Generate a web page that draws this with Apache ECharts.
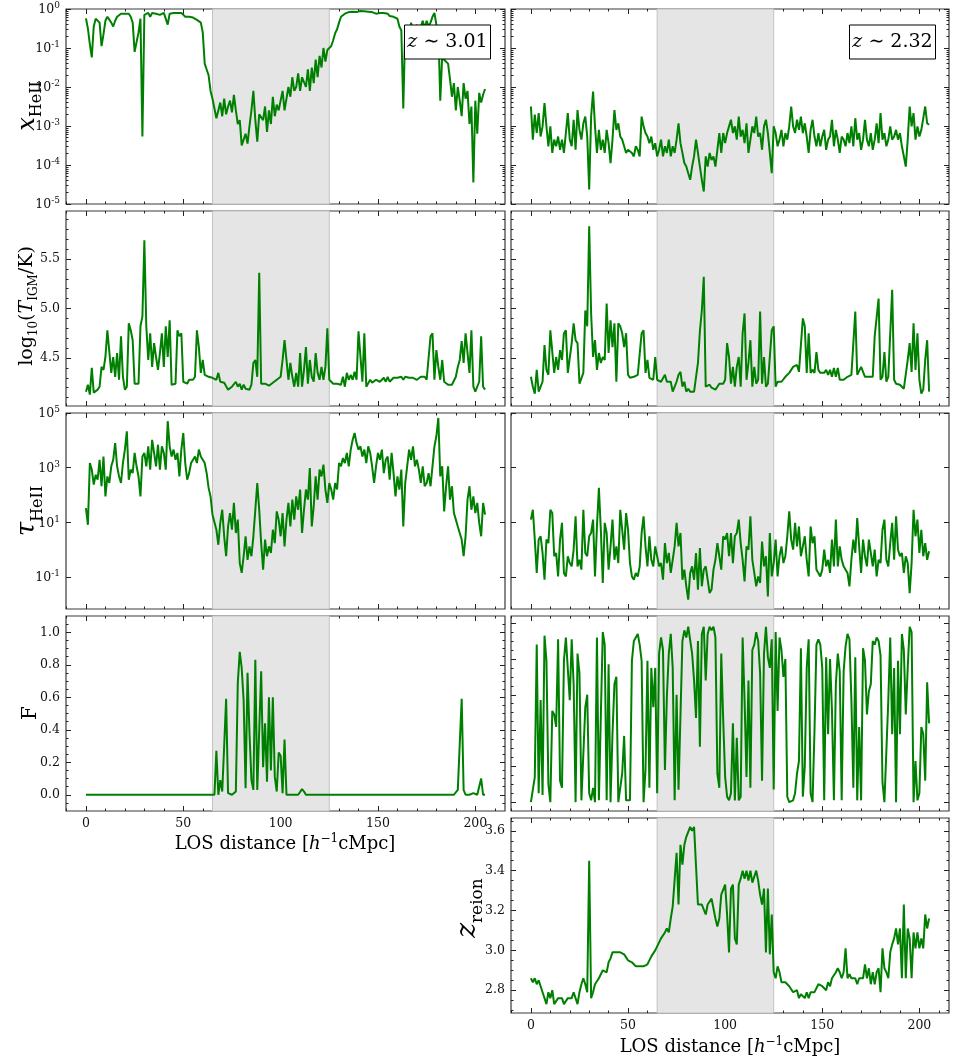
<!DOCTYPE html>
<html><head><meta charset="utf-8">
<script src="https://cdn.jsdelivr.net/npm/echarts@6/dist/echarts.min.js"></script>
<style>html,body{margin:0;padding:0;background:#fff}#chart{width:954px;height:1064px}</style>
</head><body><div id="chart"></div>
<script>
// ---------------- DATA ----------------
// sampling grid along the line of sight [h^-1 cMpc]
const losDistance = Array.from({length: 206}, (_, i) => i);
const shadedRegion = [65, 125];

// log10 x_HeII, z~3.01
const logXHeII_z301 = [
-0.24,-0.5,-0.9,-1.24,-0.45,-0.25,-0.2,-0.35,-0.95,-0.65,
-0.3,-0.2,-0.15,-0.35,-0.45,-0.3,-0.2,-0.15,-0.12,-0.1,
-0.12,-0.15,-0.12,-0.2,-0.35,-1.1,-1.15,-0.6,-0.25,-3.27,
-0.15,-0.12,-0.1,-0.2,-0.1,-0.08,-0.12,-0.1,-0.15,-0.12,
-0.1,-0.15,-0.4,-0.12,-0.1,-0.1,-0.08,-0.1,-0.12,-0.1,
-0.15,-0.2,-0.25,-0.2,-0.25,-0.22,-0.2,-0.28,-0.25,-0.35,
-0.6,-1.4,-1.55,-1.7,-2.1,-2.3,-2.25,-2.8,-2.6,-2.4,
-2.75,-2.3,-2.7,-2.5,-2.35,-2.65,-2.2,-2.6,-2.95,-2.85,
-3.5,-3.35,-3.2,-3.45,-3.0,-2.6,-2.1,-2.85,-3.4,-2.7,
-2.65,-2.85,-2.5,-3.15,-2.6,-2.95,-2.25,-2.75,-2.45,-2.6,
-2.35,-2.1,-2.6,-2.3,-2.0,-2.25,-1.75,-2.1,-2.0,-1.65,
-2.1,-1.75,-1.8,-2.0,-1.55,-2.1,-1.5,-1.9,-1.3,-1.75,
-1.2,-1.5,-1.0,-1.35,-1.05,-1.0,-0.95,-0.8,-0.62,-0.52,
-0.35,-0.2,-0.15,-0.12,-0.1,-0.08,-0.1,-0.07,-0.05,-0.08,
-0.06,-0.05,-0.08,-0.06,-0.1,-0.07,-0.05,-0.08,-0.1,-0.12,
-0.08,-0.1,-0.12,-0.1,-0.15,-0.12,-0.18,-0.15,-0.2,-0.18,
-0.25,-0.45,-0.55,-2.55,-0.5,-0.7,-0.9,-0.35,-0.55,-0.8,
-0.4,-1.0,-0.45,-0.3,-0.5,-0.3,-0.45,-0.35,-0.2,-0.1,
-0.4,-0.5,-2.35,-1.2,-1.3,-1.25,-1.4,-1.8,-2.25,-1.9,
-2.6,-2.0,-2.35,-2.75,-1.9,-2.3,-2.1,-2.95,-2.5,-4.45,
-2.35,-3.2,-2.15,-2.4,-2.2,-2.05];

// log10 x_HeII, z~2.32
const logXHeII_z232 = [
-2.5,-3.35,-2.71,-3.18,-2.67,-3.27,-3.01,-2.41,-3.01,-3.52,
-3.01,-3.69,-3.35,-3.52,-3.27,-3.61,-3.35,-3.69,-3.18,-2.67,
-3.35,-3.52,-2.84,-3.61,-2.59,-3.1,-3.35,-2.93,-2.76,-3.27,
-4.63,-2.76,-2.12,-3.01,-3.69,-3.1,-3.61,-3.35,-3.69,-3.1,
-3.44,-3.95,-3.35,-2.59,-3.1,-2.93,-3.27,-3.35,-3.52,-3.69,
-3.61,-3.65,-3.69,-3.78,-3.52,-3.61,-3.78,-2.76,-3.01,-3.18,
-3.27,-3.44,-3.27,-3.61,-3.44,-3.78,-3.61,-3.35,-3.78,-3.52,
-3.69,-3.35,-3.78,-3.52,-3.69,-3.35,-2.93,-3.44,-3.69,-3.95,
-4.04,-4.21,-4.38,-4.04,-3.78,-3.35,-3.69,-4.04,-4.38,-4.68,
-3.78,-4.04,-3.69,-3.87,-3.78,-4.04,-3.61,-3.18,-3.69,-3.18,
-3.44,-3.18,-3.01,-2.84,-3.18,-3.01,-3.35,-2.76,-3.27,-3.1,
-3.44,-2.93,-3.69,-3.35,-3.01,-3.18,-2.76,-3.27,-3.18,-3.61,
-3.01,-2.84,-3.18,-3.69,-4.21,-3.01,-3.18,-3.52,-3.35,-3.1,
-3.52,-3.18,-3.35,-3.01,-2.5,-3.01,-3.18,-2.84,-3.1,-2.76,
-3.18,-2.93,-3.27,-3.69,-3.1,-2.84,-3.27,-3.52,-3.18,-3.52,
-3.27,-3.1,-3.61,-3.35,-3.27,-2.84,-3.52,-3.1,-3.35,-3.69,
-3.27,-3.35,-3.52,-3.18,-3.44,-3.01,-3.52,-2.8,-3.35,-3.18,
-3.61,-3.35,-2.84,-3.35,-3.52,-3.18,-3.61,-3.35,-2.93,-3.44,
-2.67,-3.35,-3.18,-3.52,-3.35,-3.01,-3.35,-3.27,-3.1,-3.35,
-3.18,-3.52,-3.52,-4.04,-3.35,-2.5,-3.01,-2.67,-3.35,-3.01,
-3.27,-3.1,-3.1,-2.5,-2.93,-2.97];

// log10(T_IGM/K), z~3.01
const logT_z301 = [
4.16,4.23,4.13,4.40,4.15,4.16,4.18,4.21,4.41,4.38,
4.51,4.78,4.80,4.35,4.51,4.31,4.55,4.28,4.72,4.31,
4.18,4.21,4.85,4.78,4.68,4.24,4.23,4.24,4.82,4.92,
5.69,4.82,4.48,4.75,4.41,4.65,4.51,4.38,4.55,4.75,
4.41,4.82,4.51,4.88,4.23,4.23,4.24,4.78,4.72,4.75,
4.26,4.26,4.24,4.28,4.26,4.28,4.31,4.78,4.61,4.35,
4.48,4.33,4.32,4.31,4.31,4.30,4.29,4.28,4.35,4.26,
4.28,4.25,4.24,4.18,4.18,4.21,4.19,4.26,4.21,4.24,
4.18,4.23,4.19,4.18,4.18,4.23,4.45,4.48,4.31,5.36,
4.24,4.25,4.24,4.23,4.22,4.24,4.25,4.26,4.28,4.28,
4.31,4.48,4.68,4.48,4.28,4.45,4.31,4.21,4.35,4.21,
4.55,4.21,4.38,4.61,4.24,4.48,4.31,4.26,4.55,4.35,
4.28,4.41,4.28,4.41,4.80,4.28,4.26,4.24,4.25,4.24,
4.26,4.23,4.31,4.21,4.35,4.28,4.33,4.28,4.36,4.28,
4.77,4.77,4.26,4.75,4.21,4.23,4.28,4.25,4.26,4.28,
4.28,4.26,4.28,4.30,4.26,4.31,4.26,4.28,4.30,4.28,
4.30,4.28,4.31,4.28,4.31,4.31,4.30,4.31,4.30,4.31,
4.28,4.30,4.31,4.30,4.31,4.28,4.28,4.72,4.75,4.28,
4.58,4.41,4.28,4.48,4.26,4.24,4.23,4.21,4.23,4.24,
4.31,4.41,4.48,4.67,4.45,4.75,4.75,4.35,4.78,4.21,
4.16,4.16,4.26,4.72,4.21,4.18];

// log10(T_IGM/K), z~2.32
const logT_z232 = [
4.31,4.21,4.14,4.38,4.16,4.21,4.26,4.63,4.38,4.33,
4.78,4.80,4.35,4.51,4.38,4.58,4.48,4.75,4.78,4.35,
4.35,4.65,4.85,4.68,4.65,4.24,4.23,4.35,4.98,4.82,
5.83,4.95,4.51,4.68,4.38,4.55,4.45,4.51,4.48,5.05,
4.55,4.88,4.61,4.85,4.26,4.85,4.82,4.75,4.61,4.75,
4.33,4.30,4.31,4.31,4.33,4.33,4.35,4.75,4.78,4.35,
4.48,4.30,4.30,4.28,4.51,4.28,4.28,4.26,4.28,4.33,
4.26,4.24,4.26,4.16,4.18,4.26,4.33,4.36,4.21,4.26,
4.16,4.19,4.16,4.16,4.16,4.18,4.45,4.77,4.98,5.32,
4.21,4.21,4.23,4.20,4.19,4.18,4.21,4.24,4.23,4.24,
4.28,4.65,4.51,4.24,4.41,4.21,4.41,4.51,4.21,4.75,
4.95,4.28,4.45,4.68,4.21,4.41,4.24,4.28,4.97,4.24,
4.51,4.21,4.24,4.26,4.78,4.82,4.21,4.26,4.24,4.26,
4.28,4.31,4.30,4.35,4.38,4.41,4.40,4.43,4.36,4.38,
4.90,4.82,4.35,4.75,4.35,4.38,4.35,4.56,4.38,4.35,
4.33,4.35,4.38,4.33,4.38,4.31,4.40,4.31,4.40,4.28,
4.30,4.28,4.30,4.31,4.31,4.33,4.35,4.97,4.33,4.35,
4.41,4.43,4.31,4.31,4.31,4.30,4.31,4.72,4.72,5.10,
4.28,4.31,4.56,4.26,4.31,4.75,5.19,4.28,4.24,4.23,
4.23,4.21,4.19,4.21,4.48,4.65,4.36,4.85,4.38,4.75,
4.28,4.14,4.18,4.48,4.68,4.16];

// log10 tau_HeII, z~3.01
const logTau_z301 = [
1.52,0.91,3.17,2.93,2.38,2.74,2.56,3.29,2.32,3.41,
1.95,2.68,2.44,3.05,3.29,3.90,3.05,2.68,2.44,3.17,
3.66,4.33,2.56,2.93,2.80,3.54,3.05,2.68,1.95,3.41,
3.54,3.05,3.78,2.93,4.02,3.54,3.05,3.84,2.93,3.78,
3.54,2.93,4.70,3.78,3.41,3.66,3.29,3.54,2.68,3.66,
4.27,3.17,2.56,2.80,3.17,3.29,3.41,3.17,3.66,3.41,
3.35,3.17,2.80,2.26,1.95,1.28,1.22,0.73,0.18,0.98,
1.46,0.49,-0.24,0.85,1.34,0.73,1.71,0.61,1.10,-0.49,
-0.85,-0.24,0.49,-0.37,0.12,-0.24,0.49,1.46,2.44,1.46,
0.24,-0.73,0.37,-0.24,0.12,-0.12,0.73,0.24,1.40,1.10,
0.49,1.34,0.12,1.10,1.71,0.85,1.83,1.10,1.95,1.46,
2.20,0.61,1.46,2.20,1.83,2.99,0.85,1.59,2.68,1.83,
2.93,2.68,3.11,2.20,1.71,2.44,2.20,1.83,2.44,2.20,
3.17,3.05,3.35,3.17,3.54,3.05,3.66,4.02,4.27,3.90,
3.66,3.78,3.41,3.66,3.17,3.78,3.54,3.05,2.44,3.05,
3.54,3.29,3.66,2.80,3.29,3.41,2.56,3.54,2.80,1.95,
2.68,2.20,2.93,0.85,2.44,3.05,3.66,3.29,3.78,3.05,
3.29,2.93,2.44,3.05,2.32,2.44,2.80,2.32,3.05,3.78,
4.15,4.82,2.68,3.05,1.40,2.32,3.05,1.83,2.32,1.34,
1.10,0.85,0.61,0.37,-0.24,0.49,1.83,2.32,1.46,1.95,
1.34,1.71,0.98,0.49,1.71,1.28];

// log10 tau_HeII, z~2.32
const logTau_z232 = [
1.10,1.46,0.37,-0.85,0.37,0.49,-0.12,-1.10,0.37,0.24,
1.46,1.34,-0.24,-0.12,-0.98,0.37,0.98,-0.85,-0.98,-0.24,
-0.49,-0.61,0.00,1.22,-0.61,-0.37,-0.73,1.46,-0.12,-0.24,
0.49,0.61,1.10,-0.98,0.85,2.26,0.73,-1.22,0.98,0.61,
-0.73,0.12,1.10,-0.37,0.12,-0.49,1.46,0.73,0.00,1.34,
0.73,-0.49,-0.98,-1.10,-0.85,-0.98,-0.61,0.61,1.22,0.12,
-0.61,0.49,-0.37,-0.61,0.12,-0.24,-0.61,-0.49,-1.10,0.24,
-0.49,-0.12,-0.85,-0.37,0.12,0.98,0.12,0.61,-1.10,-0.73,
-1.34,-1.83,-0.85,-0.61,-1.10,-0.12,-1.46,0.06,-1.34,-0.73,
-0.61,-1.10,-1.59,-1.46,-0.73,-0.37,0.24,-0.24,-0.73,0.49,
0.37,0.61,-0.24,0.61,-0.49,0.49,0.61,1.10,0.24,-0.37,
-1.16,0.12,0.00,1.22,-0.37,-0.85,-1.34,-0.98,-1.22,0.30,
-0.61,-0.24,-1.71,0.61,-0.98,-0.49,0.37,-0.98,-0.24,0.12,
-0.49,-0.24,0.49,1.40,0.37,0.00,0.98,0.12,0.85,-0.24,
0.12,0.49,-0.37,-0.98,0.85,0.24,0.49,-0.73,-0.85,-0.98,
-0.73,0.00,-0.61,-0.37,-0.85,0.37,-0.61,1.10,-0.61,0.12,
-0.37,-0.61,-0.73,-0.85,-1.34,-0.37,0.37,-0.12,1.16,0.12,
-0.85,0.37,-0.24,-0.61,0.37,-0.12,-0.61,0.00,-0.98,-0.37,
-0.49,0.73,1.10,-0.37,-0.61,0.24,0.98,-0.37,1.22,0.00,
-0.24,-0.12,-0.85,-0.24,-0.49,-1.59,-0.49,1.46,0.49,1.10,
-0.12,0.73,-0.24,0.24,-0.37,-0.06];

// transmitted flux F, z~3.01
const flux_z301 = [
0,0,0,0,0,0,0,0,0,0,
0,0,0,0,0,0,0,0,0,0,
0,0,0,0,0,0,0,0,0,0,
0,0,0,0,0,0,0,0,0,0,
0,0,0,0,0,0,0,0,0,0,
0,0,0,0,0,0,0,0,0,0,
0,0,0,0,0,0,0,0.27,0.0,0.09,
0.02,0.3,0.59,0.01,0,0,0,0.02,0.69,0.88,
0.78,0.58,0.04,0.75,0.38,0.09,0.03,0.83,0.03,0.02,
0.76,0.17,0.44,0.08,0.6,0.15,0.6,0.11,0.02,0.26,
0.24,0.01,0.34,0,0,0,0,0,0,0,
0,0.035,0.02,0,0,0,0,0,0,0,
0,0,0,0,0,0,0,0,0,0,
0,0,0,0,0,0,0,0,0,0,
0,0,0,0,0,0,0,0,0,0,
0,0,0,0,0,0,0,0,0,0,
0,0,0,0,0,0,0,0,0,0,
0,0,0,0,0,0,0,0,0,0,
0,0,0,0,0,0,0,0,0,0,
0,0.03,0.02,0.59,0.03,0,0,0,0,0.01,
0.01,0,0,0.1,0,0];

// transmitted flux F, z~2.32
const flux_z232 = [
0,0,0.14,0.88,0.05,0.57,0.04,0.93,0.79,0.10,
0,0.51,0.49,0.42,0.91,0.12,0.08,0.79,0.92,0.92,
0.57,0.91,0.66,0,0.83,0.72,0.01,0,0.53,0.60,
0.05,0.01,0.08,0,0.92,0.01,0.01,0.95,0.88,0.01,
0.77,0,0.38,0.66,0.70,0,0.01,0.16,0.37,0.01,
0,0.01,0.79,0.90,0.91,0.94,0.88,0.79,0,0.18,
0.79,0.08,0.75,0.53,0.75,0.05,0.83,0.92,0.85,0.18,
0.59,0.83,0.94,0.75,0.01,0.60,0.07,0.08,0.90,0.96,
0.92,0.98,0.99,0.83,0.68,0.47,0.90,0.31,0.94,0.98,
0.68,0.94,0.98,0.96,0.98,0.92,0.16,0.08,0.83,0.46,
0.14,0.03,0.01,0.05,0.44,0.01,0.36,0.01,0.03,0.92,
0.57,0.14,0.68,0.08,0.85,0.88,0.95,0.90,0.72,0.12,
0.83,0.98,0.81,0.75,0.91,0.07,0.95,0.51,0.92,0.85,
0.70,0.80,0.03,0,0,0.01,0.05,0.16,0.23,0.86,
0.03,0.20,0.75,0.91,0.05,0,0.40,0.88,0.91,0.88,
0.75,0.01,0.81,0.38,0.80,0.51,0.01,0.66,0.83,0.73,
0.01,0.73,0.87,0.94,0.91,0.57,0.08,0.81,0.01,0.42,
0.01,0.86,0.79,0.49,0.62,0.66,0.90,0.88,0.92,0.90,
0.82,0.11,0,0.01,0.57,0.92,0.38,0.75,0,0.79,
0.38,0.94,0.85,0.49,0.75,0.98,0.95,0,0.23,0.01,
0.05,0.42,0.38,0.12,0.67,0.44];

// reionization redshift z_reion, z~2.32
const zReion_z232 = [
2.86,2.84,2.86,2.83,2.85,2.82,2.79,2.76,2.73,2.79,
2.76,2.80,2.73,2.73,2.76,2.76,2.76,2.73,2.73,2.76,
2.76,2.76,2.79,2.80,2.73,2.79,2.83,2.86,2.83,2.79,
3.45,2.76,2.79,2.83,2.83,2.86,2.86,2.90,2.90,2.89,
2.94,2.96,2.99,2.99,2.99,2.99,2.99,2.99,2.98,2.97,
2.95,2.94,2.94,2.93,2.92,2.92,2.92,2.92,2.92,2.91,
2.93,2.95,2.97,2.98,3.00,3.01,3.04,3.06,3.06,3.09,
3.11,3.09,3.16,3.22,3.22,3.49,3.23,3.53,3.43,3.53,
3.57,3.58,3.62,3.60,3.62,3.62,3.23,3.23,3.23,3.23,
3.18,3.23,3.23,3.26,3.21,3.16,3.12,3.16,3.28,3.28,
3.33,3.18,2.99,3.31,3.33,3.06,3.03,3.33,3.36,3.40,
3.36,3.40,3.35,3.40,3.34,3.34,3.40,3.35,3.28,3.23,
3.31,2.99,3.31,2.98,3.18,2.89,2.86,2.92,2.89,2.84,
2.84,2.84,2.83,2.82,2.82,2.79,2.79,2.80,2.76,2.78,
2.79,2.76,2.79,2.76,2.79,2.79,2.79,2.79,2.83,2.82,
2.82,2.83,2.80,2.84,2.82,2.86,2.86,2.89,2.91,2.89,
2.86,2.89,3.01,2.86,2.88,2.86,2.86,2.86,2.83,2.86,
2.86,2.86,2.93,2.86,2.91,2.83,2.89,2.83,2.89,2.91,
2.79,3.01,2.91,2.89,2.86,2.99,3.03,3.06,3.11,3.03,
3.11,2.86,3.23,2.86,3.11,3.06,2.86,3.09,3.01,3.09,
3.01,3.06,3.01,3.18,3.11,3.16];

// tick positions / labels
const xTickValues = [0, 50, 100, 150, 200];
const logXHeIITicks = [-5, -4, -3, -2, -1, 0];
const logTTicks = [4.5, 5.0, 5.5];
const logTauTicks = [-1, 1, 3, 5];
const fluxTicks = [0, 0.2, 0.4, 0.6, 0.8, 1.0];
const zReionTicks = [2.8, 3.0, 3.2, 3.4, 3.6];

// ---------------- LAYOUT / STYLE ----------------
function stepTicks(lo, hi, step, skipEvery) {
  const out = [];
  const n0 = Math.ceil(lo / step - 1e-9), n1 = Math.floor(hi / step + 1e-9);
  for (let n = n0; n <= n1; n++) {
    if (skipEvery && n % skipEvery === 0) continue;
    out.push(+(n * step).toFixed(4));
  }
  return out;
}
function logMinor(lo, hi) {
  const out = [];
  for (let n = lo; n < hi; n++) for (let k = 2; k <= 9; k++) out.push(n + Math.log10(k));
  return out;
}
const X_MIN = -10.25, X_MAX = 215.25;
const xMinor = stepTicks(-10, 210, 10, 5);
const TICK_COLOR = '#222';
const FONT = 'DejaVu Serif';
const LINE_GREEN = '#008000';
const COLS = [{left: 66, width: 439}, {left: 511, width: 438}];
const ROWS = [{top: 9, height: 195}, {top: 211, height: 195}, {top: 413, height: 196}, {top: 616, height: 195}, {top: 818, height: 195}];

const lin1 = v => (Math.round(v * 10) / 10).toFixed(1);
const pow10 = v => '{b|10}{s|' + Math.round(v) + '}';
const labelBase = {fontFamily: FONT, fontSize: 12.5, color: '#111', margin: 6};
const powRich = {
  b: {fontFamily: FONT, fontSize: 12.5, color: '#111', verticalAlign: 'bottom'},
  s: {fontFamily: FONT, fontSize: 9, color: '#111', verticalAlign: 'bottom', padding: [0, 0, 6, 0]}
};

const panels = [
  {col: 0, row: 0, vals: logXHeII_z301, yMin: -5, yMax: 0, major: logXHeIITicks, minor: logMinor(-5, 0), yLab: true, fmt: pow10, rich: powRich},
  {col: 1, row: 0, vals: logXHeII_z232, yMin: -5, yMax: 0, major: logXHeIITicks, minor: logMinor(-5, 0), yLab: false},
  {col: 0, row: 1, vals: logT_z301, yMin: 4.015, yMax: 5.985, major: logTTicks, minor: stepTicks(4.1, 5.9, 0.1, 5), yLab: true, fmt: lin1},
  {col: 1, row: 1, vals: logT_z232, yMin: 4.015, yMax: 5.985, major: logTTicks, minor: stepTicks(4.1, 5.9, 0.1, 5), yLab: false},
  {col: 0, row: 2, vals: logTau_z301, yMin: -2.17, yMax: 5, major: logTauTicks, minor: [], yLab: true, fmt: pow10, rich: powRich},
  {col: 1, row: 2, vals: logTau_z232, yMin: -2.17, yMax: 5, major: logTauTicks, minor: [], yLab: false},
  {col: 0, row: 3, vals: flux_z301, yMin: -0.1, yMax: 1.1, major: fluxTicks, minor: stepTicks(-0.05, 1.05, 0.05, 4), yLab: true, fmt: lin1, xLab: true},
  {col: 1, row: 3, vals: flux_z232, yMin: -0.0495, yMax: 1.04, major: fluxTicks, minor: stepTicks(0.05, 1.0, 0.05, 4), yLab: false},
  {col: 1, row: 4, vals: zReion_z232, yMin: 2.6855, yMax: 3.6645, major: zReionTicks, minor: stepTicks(2.7, 3.65, 0.05, 4), yLab: true, fmt: lin1, xLab: true}
];

const grids = [], xAxes = [], yAxes = [], series = [];
function tickAxis(gi, pos, min, max, vals, len, label) {
  return {
    type: 'value', gridIndex: gi, position: pos, min: min, max: max, offset: 0, silent: true,
    splitLine: {show: false}, axisLine: {show: false, onZero: false},
    axisTick: {show: true, inside: true, length: len, customValues: vals, lineStyle: {color: TICK_COLOR, width: 1}},
    axisLabel: label ? Object.assign({show: true, customValues: vals}, labelBase, label) : {show: false}
  };
}
panels.forEach(p => {
  const gi = grids.length;
  grids.push(Object.assign({show: true, borderColor: '#3a3a3a', borderWidth: 1.2, backgroundColor: 'transparent'},
    {left: COLS[p.col].left, width: COLS[p.col].width, top: ROWS[p.row].top, height: ROWS[p.row].height}));
  const xi = xAxes.length;
  xAxes.push(tickAxis(gi, 'bottom', X_MIN, X_MAX, xTickValues, 5, p.xLab ? {formatter: v => String(Math.round(v))} : null));
  xAxes.push(tickAxis(gi, 'bottom', X_MIN, X_MAX, xMinor, 2.5, null));
  xAxes.push(tickAxis(gi, 'top', X_MIN, X_MAX, xTickValues, 5, null));
  xAxes.push(tickAxis(gi, 'top', X_MIN, X_MAX, xMinor, 2.5, null));
  const yi = yAxes.length;
  yAxes.push(tickAxis(gi, 'left', p.yMin, p.yMax, p.major, 5, p.yLab ? {formatter: p.fmt, rich: p.rich || undefined} : null));
  yAxes.push(tickAxis(gi, 'right', p.yMin, p.yMax, p.major, 5, null));
  if (p.minor.length) {
    yAxes.push(tickAxis(gi, 'left', p.yMin, p.yMax, p.minor, 2.5, null));
    yAxes.push(tickAxis(gi, 'right', p.yMin, p.yMax, p.minor, 2.5, null));
  }
  series.push({
    type: 'line', xAxisIndex: xi, yAxisIndex: yi, z: 3,
    data: losDistance.map((x, i) => [x, p.vals[i]]),
    showSymbol: false, symbol: 'none', clip: true,
    lineStyle: {color: LINE_GREEN, width: 2}, itemStyle: {color: LINE_GREEN},
    markArea: {silent: true, itemStyle: {color: '#e5e5e5', borderColor: '#c2c2c2', borderWidth: 1},
      data: [[{xAxis: shadedRegion[0]}, {xAxis: shadedRegion[1]}]]}
  });
});

// axis titles and annotation boxes
const T = (fs, extra) => Object.assign({fontFamily: FONT, fontSize: fs, fill: '#000', color: '#000'}, extra || {});
function vTitle(x, y, text, rich) {
  return {type: 'text', x: x, y: y, rotation: Math.PI / 2, z: 70,
    style: {text: text, rich: rich, align: 'center', verticalAlign: 'middle', fill: '#000'}};
}
function hTitle(x, y, text, rich) {
  return {type: 'text', x: x, y: y, z: 70,
    style: {text: text, rich: rich, align: 'center', verticalAlign: 'middle', fill: '#000'}};
}
const subRich = (big, small, drop) => ({
  i: T(big, {fontStyle: 'italic', verticalAlign: 'top'}),
  r: T(big, {verticalAlign: 'top'}),
  s: T(small, {verticalAlign: 'top', padding: [drop, 0, 0, 0]})
});
const xTitleRich = {
  r: T(18, {verticalAlign: 'bottom'}), i: T(18, {fontStyle: 'italic', verticalAlign: 'bottom'}),
  u: T(12, {verticalAlign: 'bottom', padding: [0, 0, 8, 0]})
};
const boxRich = {i: T(19, {fontStyle: 'italic'}), r: T(19)};
const graphics = [
  vTitle(30, 106, '{i|x}{s|HeII}', subRich(24, 16, 13)),
  vTitle(29, 306, '{r|log}{s|10}{r|(}{i|T}{s|IGM}{r|/K)}', subRich(19, 12, 10)),
  vTitle(30, 511, '{i|τ}{s|HeII}', subRich(26, 16, 15)),
  vTitle(31, 713, '{r|F}', subRich(20, 12, 10)),
  vTitle(470, 908, '{i|z}{s|reion}', subRich(28, 17, 16)),
  hTitle(285, 843, '{r|LOS distance [}{i|h}{u|−1}{r|cMpc]}', xTitleRich),
  hTitle(730, 1046, '{r|LOS distance [}{i|h}{u|−1}{r|cMpc]}', xTitleRich),
  {type: 'rect', z: 60, shape: {x: 404.5, y: 25, width: 86, height: 34}, style: {fill: '#fff', stroke: '#000', lineWidth: 1}},
  hTitle(447.5, 42, '{i|z}{r| ∼ 3.01}', boxRich),
  {type: 'rect', z: 60, shape: {x: 849.5, y: 25, width: 86, height: 34}, style: {fill: '#fff', stroke: '#000', lineWidth: 1}},
  hTitle(892.5, 42, '{i|z}{r| ∼ 2.32}', boxRich)
];

const chart = echarts.init(document.getElementById('chart'), null, {renderer: 'canvas'});
chart.setOption({
  animation: false,
  backgroundColor: '#fff',
  grid: grids, xAxis: xAxes, yAxis: yAxes, series: series,
  graphic: graphics
});
</script></body></html>
